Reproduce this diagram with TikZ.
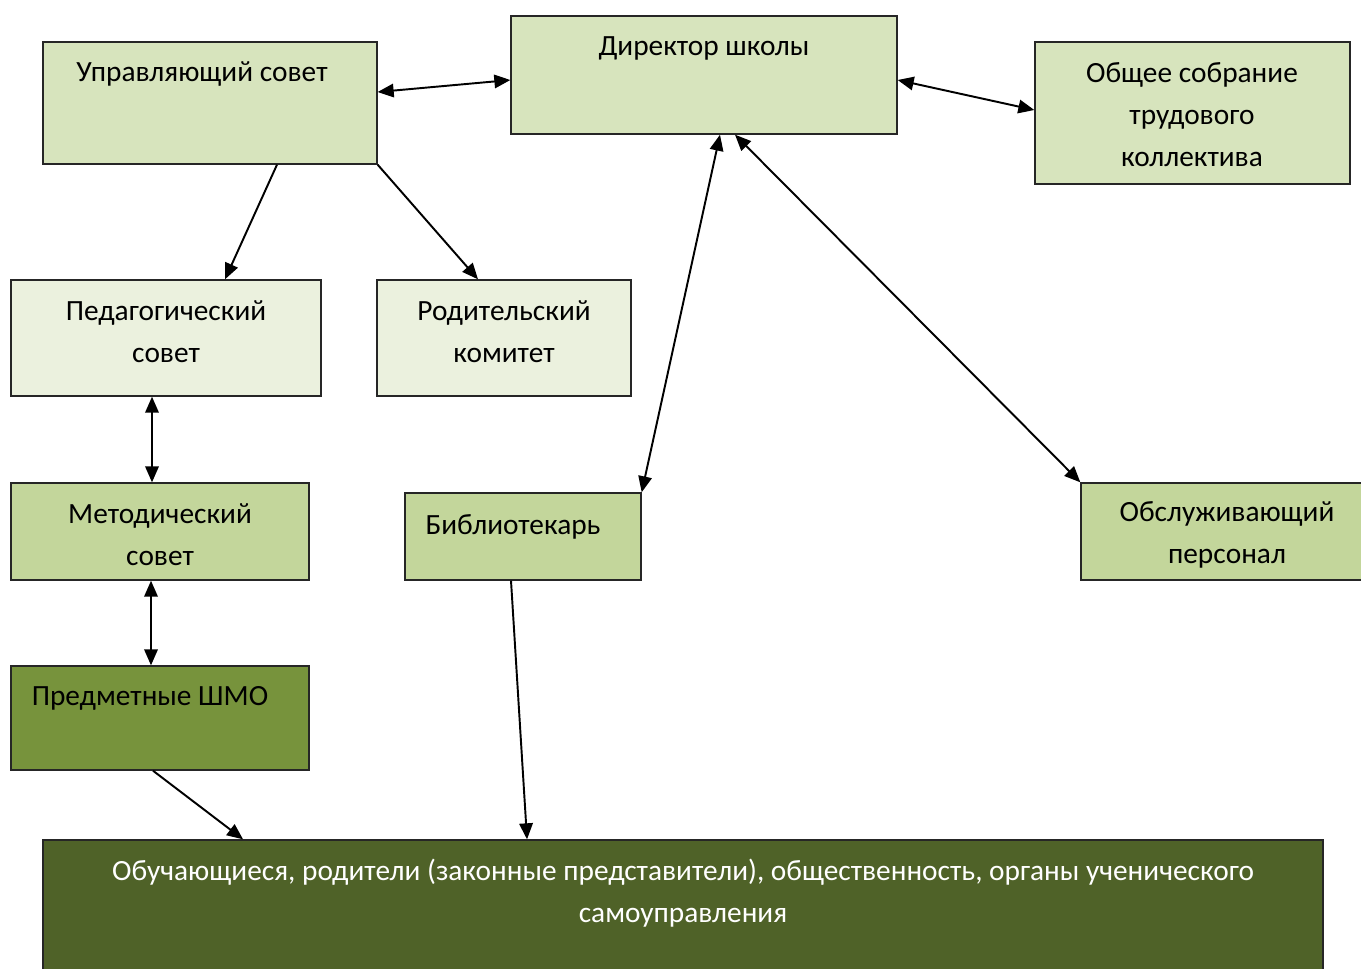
\documentclass[tikz,border=0pt]{standalone}
\usepackage{fontspec}
\setmainfont{Carlito}
\usetikzlibrary{arrows.meta}
\definecolor{paleA}{HTML}{D7E4BD}
\definecolor{paleB}{HTML}{EBF1DE}
\definecolor{midgreen}{HTML}{C3D69B}
\definecolor{olive}{HTML}{77933C}
\definecolor{darkolive}{HTML}{4F6228}
\begin{document}
\begin{tikzpicture}[x=0.02cm,y=-0.02cm]
% Style definitions
\tikzset{
    unit/.style={draw=black!85, line width=0.8pt, rectangle, inner sep=0pt},
    topbox/.style={unit, fill=paleA},
    councilbox/.style={unit, fill=paleB},
    staffbox/.style={unit, fill=midgreen},
    shmobox/.style={unit, fill=olive},
    basebox/.style={unit, fill=darkolive},
    caption/.style={font=\fontsize{16.7}{23.8}\selectfont, align=center, inner sep=0pt},
    link/.style={-{Triangle[length=0.32cm,width=0.27cm]}, line width=1.1pt},
    dlink/.style={{Triangle[length=0.32cm,width=0.27cm]}-{Triangle[length=0.32cm,width=0.27cm]}, line width=1.1pt}
}
\useasboundingbox[fill=white] (0,0) rectangle (1361,968);

% Top row
\node[topbox, minimum width=6.68cm, minimum height=2.44cm] (upr) at (210,103) {};
\node[caption] (upr-t) at (202,74) {Управляющий совет};

\node[topbox, minimum width=7.72cm, minimum height=2.36cm] (dir) at (704,75) {};
\node[caption] (dir-t) at (704,48) {Директор школы};

\node[topbox, minimum width=6.3cm, minimum height=2.84cm] (obsh) at (1192.5,113) {};
\node[caption] (obsh-t) at (1192,114.5) {Общее собрание\\трудового\\коллектива};

% Councils
\node[councilbox, minimum width=6.2cm, minimum height=2.32cm] (ped) at (166,338) {};
\node[caption] (ped-t) at (166,332) {Педагогический\\совет};

\node[councilbox, minimum width=5.08cm, minimum height=2.32cm] (rod) at (504,338) {};
\node[caption] (rod-t) at (504,332) {Родительский\\комитет};

% Staff
\node[staffbox, minimum width=5.96cm, minimum height=1.94cm] (met) at (160,531.5) {};
\node[caption] (met-t) at (160,534.5) {Методический\\совет};

\node[staffbox, minimum width=4.72cm, minimum height=1.74cm] (bib) at (523,536.5) {};
\node[caption] (bib-t) at (513,527) {Библиотекарь};

\node[staffbox, minimum width=5.88cm, minimum height=1.94cm] (obsl) at (1228,531.5) {};
\node[caption] (obsl-t) at (1227,535) {Обслуживающий\\персонал};

\node[shmobox, minimum width=5.96cm, minimum height=2.08cm] (pred) at (160,718) {};
\node[caption] (pred-t) at (150,698) {Предметные ШМО};

% Bottom box
\node[basebox, minimum width=25.6cm, minimum height=3cm] (obuch) at (683,915) {};
\node[caption, text=white] (obuch-t) at (683,893.5) {Обучающиеся, родители (законные представители), общественность, органы ученического\\самоуправления};

% Connecting arrows
\draw[dlink] ([yshift=0.22cm]upr.east) -- ([yshift=-0.1cm]dir.west);
\draw[dlink] ([yshift=-0.1cm]dir.east) -- ([yshift=0.06cm]obsh.west);
\draw[link] ([xshift=1.34cm]upr.south) -- ([xshift=1.18cm]ped.north);
\draw[link] (upr.south east) -- ([xshift=-0.52cm]rod.north);
\draw[dlink] ([xshift=0.32cm]dir.south) -- (bib.north east);
\draw[dlink] ([xshift=0.62cm]dir.south) -- (obsl.north west);
\draw[dlink] ([xshift=-0.28cm]ped.south) -- ([xshift=-0.16cm]met.north);
\draw[dlink] ([xshift=-0.18cm]met.south) -- ([xshift=-0.18cm]pred.north);
\draw[link] ([xshift=-0.14cm]pred.south) -- ([xshift=-8.8cm]obuch.north);
\draw[link] ([xshift=-0.24cm]bib.south) -- ([xshift=-3.12cm]obuch.north);

\end{tikzpicture}
\end{document}
